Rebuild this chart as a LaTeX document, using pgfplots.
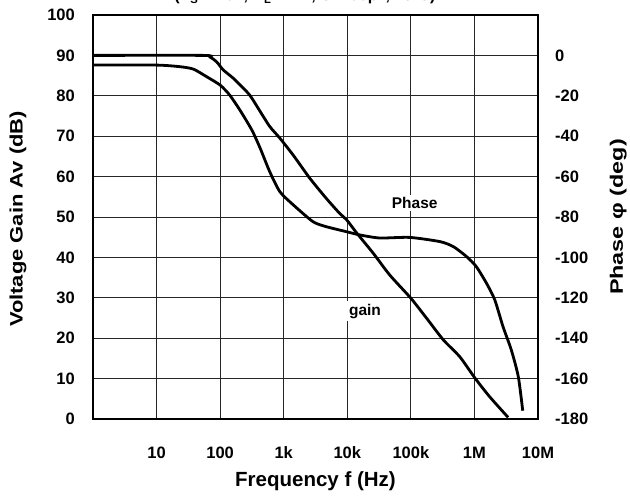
\documentclass[border=0pt]{standalone}
\usepackage{graphicx}
\usepackage{pgfplots}
\pgfplotsset{compat=1.18}
\usepackage{pgfplotstable}
\usepackage{fontspec}
\setmainfont{Liberation Sans}

% open loop gain (dB) vs frequency (Hz)
\pgfplotstableread{
f       gain
1       90.0
53.7    90.0
69.2    89.6
88.1    88.4
112     86.4
162     84.3
263     81.0
316     79.4
427     76.1
603     72.4
871     69.5
1413    65.3
2570    59.6
4677    54.6
7586    50.9
9772    49.3
14130   46.0
25700   41.0
46770   35.6
100000  29.9
177800  24.9
323600  19.6
588800  15.4
1023000 10.1
1738000 5.5
3388000 0.4
}\gaintable

% phase (deg) vs frequency (Hz)
\pgfplotstableread{
f       phase
1       -4.8
10      -4.8
23.4    -5.6
38      -6.8
61.7    -10.6
100     -14.7
141     -19.6
204     -27.0
316     -37.0
427     -46.0
603     -57.6
871     -67.5
1413    -74.0
2884    -82.3
4677    -84.8
9772    -87.3
15850   -88.9
32360   -90.4
95500   -90.1
288400  -92.2
467700  -94.7
758600  -99.7
1072000 -104.6
1549000 -112.8
2089000 -121.0
2818000 -134.3
3802000 -145.8
4898000 -159.0
5754000 -175.9
}\phasetable

\begin{document}
\begin{tikzpicture}
\begin{axis}[
    scale only axis, width=445pt, height=404pt,
    at={(0pt,0pt)}, anchor=south west,
    xmode=log, xmin=1, xmax=1e7,
    ymin=0, ymax=100,
    xminorticks=false,
    major tick length=0pt,
    ytick={0,10,20,30,40,50,60,70,80,90,100},
    yticklabels={0,10,20,30,40,50,60,70,80,90,100},
    xtick={10,100,1000,10000,100000,1000000,10000000},
    xticklabels={10,100,1k,10k,100k,1M,10M},
    grid=major,
    major grid style={black!85, line width=0.9pt},
    axis line style={black, line width=1.3pt},
    yticklabel style={font=\fontsize{16.5}{18}\bfseries, anchor=east, inner sep=0pt, xshift=-18pt},
    xticklabel style={font=\fontsize{16.5}{18}\bfseries, anchor=base, inner sep=0pt, yshift=-39pt},
    xlabel={Frequency f (Hz)},
    xlabel style={font=\fontsize{20.5}{22}\bfseries, at={(axis description cs:0.5,-0.1676)}, anchor=base},
    ylabel={\scalebox{1.22}[1]{Voltage Gain Av (dB)}},
    ylabel style={font=\fontsize{18}{20}\bfseries, at={(axis description cs:-0.158,0.495)}, anchor=base},
  ]
  \addplot[black, line width=2.8pt, smooth, tension=0.4] table[x=f, y=gain] {\gaintable};
\end{axis}
\begin{axis}[
    scale only axis, width=445pt, height=404pt,
    at={(0pt,0pt)}, anchor=south west,
    xmode=log, xmin=1, xmax=1e7,
    ymin=-180, ymax=20,
    hide x axis,
    axis y line*=right,
    major tick length=0pt,
    axis line style={black, line width=1.3pt},
    ytick={-180,-160,-140,-120,-100,-80,-60,-40,-20,0},
    yticklabels={-180,-160,-140,-120,-100,-80,-60,-40,-20,0},
    yticklabel style={font=\fontsize{16.5}{18}\bfseries, anchor=west, inner sep=0pt, xshift=17pt},
    ylabel={\scalebox{1.3}[1]{Phase φ (deg)}},
    ylabel style={font=\fontsize{18}{20}\bfseries, at={(axis description cs:1.191,0.5)}, anchor=base},
  ]
  \addplot[black, line width=2.8pt, smooth, tension=0.4] table[x=f, y=phase] {\phasetable};
  \node[fill=white, inner sep=2pt, font=\fontsize{15.5}{17}\bfseries] at (axis cs:115000,-73) {Phase};
  \node[fill=white, inner sep=3pt, font=\fontsize{15.5}{17}\bfseries] at (axis cs:19000,-126.6) {gain};
\end{axis}
% test conditions line, mostly above the top edge of the page
\node[overlay, anchor=base, font=\fontsize{16}{18}\bfseries] at (212pt,418pt)
  {(V\textsubscript{S}=±15V, R\textsubscript{L}=2kΩ, C=100pF, 25°C)};
\pgfresetboundingbox
\path (-93pt,-79pt) rectangle (537pt,419pt);
\end{tikzpicture}
\end{document}
